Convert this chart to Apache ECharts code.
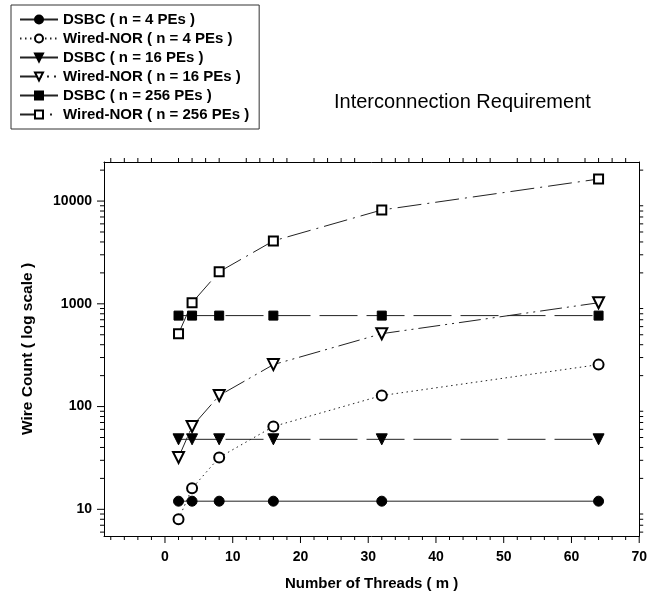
<!DOCTYPE html>
<html>
<head>
<meta charset="utf-8">
<script src="https://cdn.jsdelivr.net/npm/echarts@6/dist/echarts.min.js"></script>
<style>
  html, body { margin: 0; padding: 0; background: #fff; }
  #chart { width: 650px; height: 601px; }
</style>
</head>
<body>
<div id="chart"></div>
<script>
// values
const threads = [2, 4, 8, 16, 32, 64];
const dsbc4 = [12, 12, 12, 12, 12, 12];
const wiredNor4 = [8, 16, 32, 64, 128, 256];
const dsbc16 = [48, 48, 48, 48, 48, 48];
const wiredNor16 = [32, 64, 128, 256, 512, 1024];
const dsbc256 = [768, 768, 768, 768, 768, 768];
const wiredNor256 = [512, 1024, 2048, 4096, 8192, 16384];

const xLabels = [0, 10, 20, 30, 40, 50, 60, 70];
const xMinorTicks = [-8, -6, -4, -2, 2, 4, 6, 8, 12, 14, 16, 18, 22, 24, 26, 28,
    32, 34, 36, 38, 42, 44, 46, 48, 52, 54, 56, 58, 62, 64, 66, 68];
const yLabels = [10, 100, 1000, 10000];
const yMinorTicks = [6, 7, 8, 9, 20, 30, 40, 50, 60, 70, 80, 90,
    200, 300, 400, 500, 600, 700, 800, 900,
    2000, 3000, 4000, 5000, 6000, 7000, 8000, 9000, 20000];

const X_MIN = -9, X_MAX = 70;
const Y_MIN = 5.5, Y_MAX = 24000;
const FONT = 'Liberation Sans';

function pairs(ys) {
    return threads.map((t, i) => [t, ys[i]]);
}

function lineSeries(name, ys, symbol, dash, rotate) {
    return {
        name: name,
        type: 'line',
        data: pairs(ys),
        symbol: symbol,
        symbolSize: symbol.indexOf('ircle') >= 0 ? 10 : (symbol.indexOf('riangle') >= 0 ? 11 : 9),
        symbolRotate: rotate || 0,
        showAllSymbol: true,
        itemStyle: { color: '#000', borderColor: '#000', borderWidth: 1 },
        lineStyle: { color: '#222', width: 1, type: dash },
        z: 3
    };
}

// outward ticks drawn on the plot frame through the axes' own scales
function tickSeries(name, values, side, len) {
    return {
        name: name,
        type: 'custom',
        silent: true,
        clip: false,
        z: 4,
        data: values.map(v => [v]),
        renderItem: function (params, api) {
            const v = api.value(0);
            let p, shape;
            if (side === 'left') {
                p = api.coord([X_MIN, v]);
                shape = { x1: p[0] - len, y1: p[1], x2: p[0], y2: p[1] };
            } else if (side === 'right') {
                p = api.coord([X_MAX, v]);
                shape = { x1: p[0], y1: p[1], x2: p[0] + len, y2: p[1] };
            } else if (side === 'bottom') {
                p = api.coord([v, Y_MIN]);
                shape = { x1: p[0], y1: p[1], x2: p[0], y2: p[1] + len };
            } else {
                p = api.coord([v, Y_MAX]);
                shape = { x1: p[0], y1: p[1] - len, x2: p[0], y2: p[1] };
            }
            return { type: 'line', shape: shape, style: { stroke: '#000', lineWidth: 1 } };
        }
    };
}

const chart = echarts.init(document.getElementById('chart'), null, { renderer: 'canvas' });

const names = [
    'DSBC ( n = 4 PEs )', 'Wired-NOR ( n = 4 PEs )',
    'DSBC ( n = 16 PEs )', 'Wired-NOR ( n = 16 PEs )',
    'DSBC ( n = 256 PEs )', 'Wired-NOR ( n = 256 PEs )'
];

const frameLine = { show: true, onZero: false, lineStyle: { color: '#000', width: 1 } };

const option = {
    animation: false,
    backgroundColor: '#fff',
    title: {
        text: 'Interconnection Requirement',
        left: 329,
        top: 87,
        textStyle: { fontFamily: FONT, fontSize: 20, fontWeight: 'normal', color: '#000' }
    },
    legend: {
        data: names,
        orient: 'vertical',
        left: 11,
        top: 5,
        itemWidth: 38,
        itemHeight: 10,
        itemGap: 4,
        padding: [7, 10, 7, 8],
        borderColor: '#333',
        borderWidth: 1,
        textStyle: { fontFamily: FONT, fontSize: 15, fontWeight: 'bold', color: '#000' }
    },
    grid: { left: 104, top: 162, right: 9, bottom: 65 },
    xAxis: [
        {
            type: 'value',
            position: 'bottom',
            min: X_MIN,
            max: X_MAX,
            name: 'Number of Threads ( m )',
            nameLocation: 'middle',
            nameGap: 40,
            nameTextStyle: { fontFamily: FONT, fontSize: 15, fontWeight: 'bold', color: '#000' },
            axisLine: frameLine,
            axisTick: { show: false },
            axisLabel: {
                customValues: xLabels,
                margin: 14,
                fontFamily: FONT, fontSize: 14, fontWeight: 'bold', color: '#000'
            },
            splitLine: { show: false }
        },
        {
            type: 'value',
            position: 'top',
            min: X_MIN,
            max: X_MAX,
            axisLine: frameLine,
            axisTick: { show: false },
            axisLabel: { show: false },
            splitLine: { show: false }
        }
    ],
    yAxis: [
        {
            type: 'log',
            position: 'left',
            min: Y_MIN,
            max: Y_MAX,
            name: 'Wire Count ( log scale )',
            nameLocation: 'middle',
            nameGap: 68,
            nameTextStyle: { fontFamily: FONT, fontSize: 15.5, fontWeight: 'bold', color: '#000' },
            axisLine: frameLine,
            axisTick: { show: false },
            axisLabel: {
                margin: 12,
                fontFamily: FONT, fontSize: 14, fontWeight: 'bold', color: '#000',
                formatter: v => (yLabels.indexOf(Math.round(v)) >= 0 && Math.abs(v - Math.round(v)) < 1e-6) ? String(Math.round(v)) : ''
            },
            splitLine: { show: false }
        },
        {
            type: 'log',
            position: 'right',
            min: Y_MIN,
            max: Y_MAX,
            axisLine: frameLine,
            axisTick: { show: false },
            axisLabel: { show: false },
            splitLine: { show: false }
        }
    ],
    series: [
        lineSeries(names[0], dsbc4, 'circle', 'solid'),
        lineSeries(names[1], wiredNor4, 'emptyCircle', [1.5, 3.5]),
        lineSeries(names[2], dsbc16, 'triangle', [38, 9], 180),
        lineSeries(names[3], wiredNor16, 'emptyTriangle', [22, 5, 2, 5, 2, 5], 180),
        lineSeries(names[4], dsbc256, 'rect', [38, 9]),
        lineSeries(names[5], wiredNor256, 'emptyRect', [24, 6, 2, 6]),
        tickSeries('ticks-left-major', yLabels, 'left', 7),
        tickSeries('ticks-left-minor', yMinorTicks, 'left', 4),
        tickSeries('ticks-right-minor', yMinorTicks, 'right', 4),
        tickSeries('ticks-bottom-major', xLabels, 'bottom', 7),
        tickSeries('ticks-bottom-minor', xMinorTicks, 'bottom', 4),
        tickSeries('ticks-top-minor', xMinorTicks, 'top', 4)
    ]
};

chart.setOption(option);
</script>
</body>
</html>
